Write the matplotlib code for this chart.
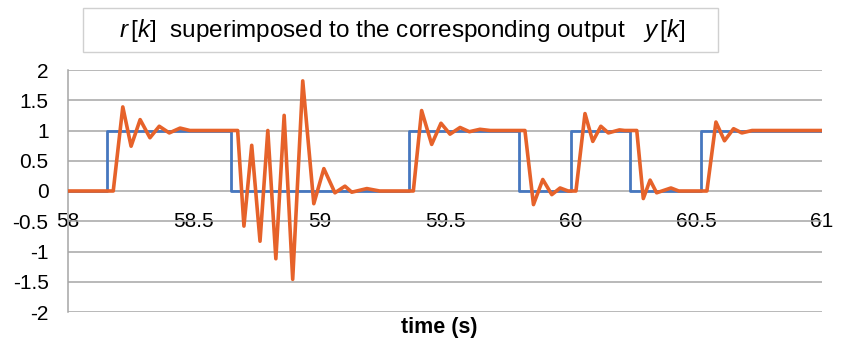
import matplotlib
matplotlib.use("Agg")
import matplotlib.pyplot as plt
from matplotlib.patches import Rectangle

plt.rcParams['font.family'] = ['Liberation Sans', 'DejaVu Sans']
plt.rcParams['mathtext.fontset'] = 'custom'
plt.rcParams['mathtext.rm'] = 'Liberation Sans'
plt.rcParams['mathtext.it'] = 'Liberation Sans:italic'
plt.rcParams['axes.unicode_minus'] = False

# reference r[k] (step signal)
r_t = [58.0, 58.155, 58.65, 59.355, 59.796, 60.0, 60.236, 60.52, 61.0]
r_v = [0, 1, 0, 1, 0, 1, 0, 1, 1]

# output y[k]
y_t = [58.000, 58.180, 58.218, 58.251, 58.287, 58.326, 58.363, 58.403, 58.446, 58.485,
       58.675, 58.700, 58.731, 58.764, 58.795, 58.827, 58.860, 58.894, 58.934, 58.978,
       59.018, 59.062, 59.102, 59.129, 59.189, 59.240,
       59.374, 59.407, 59.447, 59.484, 59.520, 59.560, 59.597, 59.639, 59.680,
       59.818, 59.852, 59.889, 59.925, 59.958, 59.990,
       60.021, 60.057, 60.088, 60.120, 60.150, 60.194, 60.215,
       60.263, 60.289, 60.316, 60.342, 60.399, 60.430,
       60.542, 60.578, 60.612, 60.648, 60.681, 60.722, 61.000]
y_v = [0.0, 0.0, 1.39, 0.74, 1.18, 0.88, 1.07, 0.96, 1.04, 1.0,
       1.0, -0.58, 0.755, -0.83, 1.0, -1.12, 1.25, -1.46, 1.82, -0.21,
       0.37, -0.03, 0.08, -0.02, 0.04, 0.0,
       0.0, 1.33, 0.77, 1.12, 0.94, 1.05, 0.98, 1.02, 1.0,
       1.0, -0.225, 0.19, -0.06, 0.05, 0.0,
       0.0, 1.28, 0.82, 1.07, 0.96, 1.01, 1.0,
       1.0, -0.125, 0.18, -0.03, 0.05, 0.0,
       0.0, 1.14, 0.83, 1.03, 0.96, 1.0, 1.0]

x_ticks = [58, 58.5, 59, 59.5, 60, 60.5, 61]
x_labels = ["58", "58.5", "59", "59.5", "60", "60.5", "61"]
y_ticks = [-2, -1.5, -1, -0.5, 0, 0.5, 1, 1.5, 2]
y_labels = ["-2", "-1.5", "-1", "-0.5", "0", "0.5", "1", "1.5", "2"]

W, H = 844, 342
fig = plt.figure(figsize=(W / 100, H / 100), dpi=100)
ax = fig.add_axes([68 / W, 1 - 312 / H, (822 - 68) / W, (312 - 70) / H])

grid_c = '#a6a6a6'
for s in ['top', 'right']:
    ax.spines[s].set_visible(False)
ax.spines['left'].set_color(grid_c)
ax.spines['left'].set_linewidth(1.1)
ax.spines['bottom'].set_position(('data', 0))
ax.spines['bottom'].set_visible(False)

ax.set_xlim(58, 61)
ax.set_ylim(-2, 2)
ax.set_yticks(y_ticks)
ax.set_yticklabels(y_labels)
ax.set_xticks(x_ticks)
ax.set_xticklabels(x_labels)
ax.tick_params(axis='y', length=0, pad=14, labelsize=15)
ax.tick_params(axis='x', length=0, pad=15, labelsize=15)
ax.yaxis.grid(True, color=grid_c, lw=1.1)
ax.xaxis.grid(False)
ax.set_axisbelow(True)
for lab in ax.get_xticklabels():
    lab.set_bbox(dict(facecolor='white', edgecolor='none', pad=1.5))

ax.plot(r_t, r_v, drawstyle='steps-post', color='#4677bf', lw=2.0, zorder=3)
ax.plot(y_t, y_v, color='#e6622a', lw=2.6, zorder=4,
        solid_joinstyle='round', solid_capstyle='round')

# title box
fig.patches.append(Rectangle((83 / W, 1 - 52 / H), 635 / W, 44 / H,
                             transform=fig.transFigure, facecolor='white',
                             edgecolor='#d0d0d0', lw=1))
fig.text(402 / W, 1 - 30 / H,
         r"$r\,[k]$  superimposed to the corresponding output   $y\,[k]$",
         ha='center', va='center', fontsize=17.5)

fig.text(439 / W, 1 - 328 / H, "time (s)", ha='center', va='center',
         fontsize=15.5, fontweight='bold')

fig.savefig("out.png", dpi=100, facecolor='white')
